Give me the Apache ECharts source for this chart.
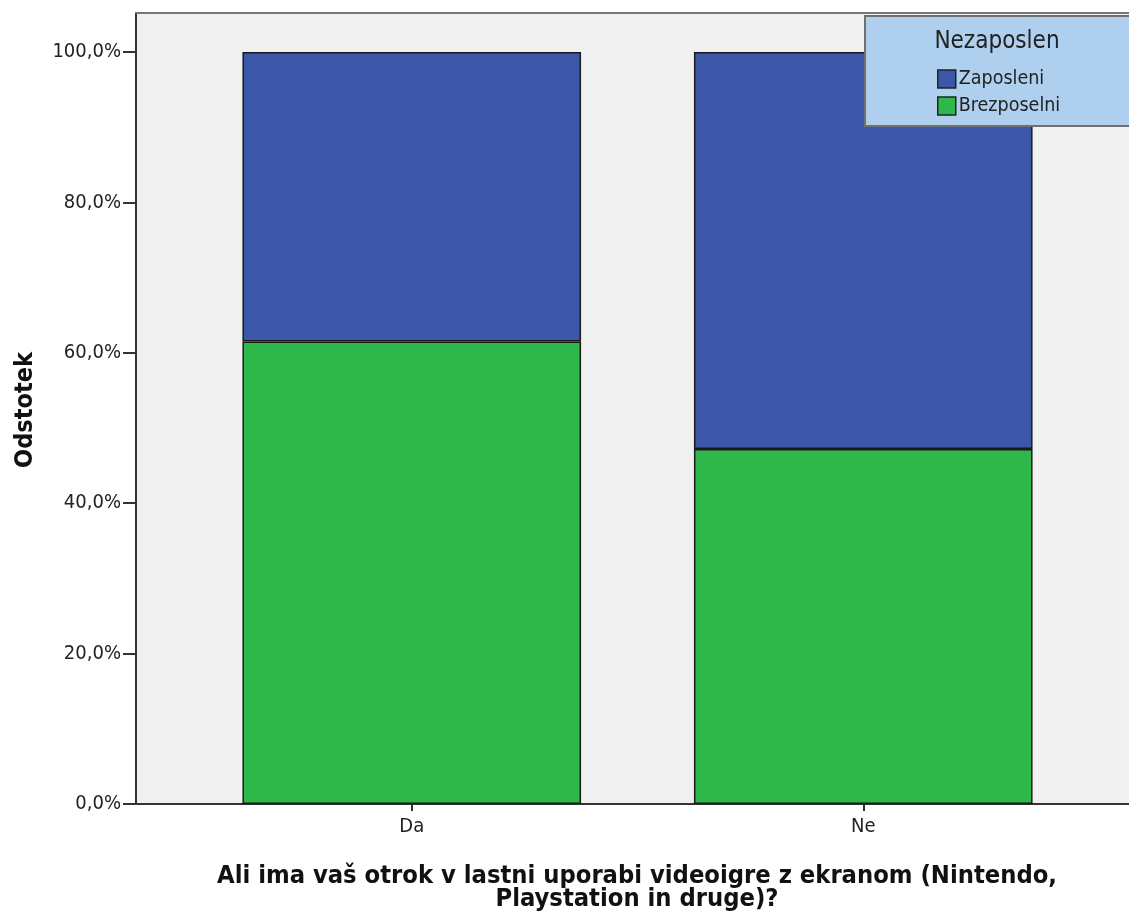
<!DOCTYPE html>
<html><head><meta charset="utf-8">
<script src="https://cdn.jsdelivr.net/npm/echarts@6/dist/echarts.min.js"></script>
<style>html,body{margin:0;padding:0;background:#fff}#c{width:1129px;height:914px}</style>
</head><body><div id="c"></div>
<script>
const categories = ['Da', 'Ne'];
const brezposelni = [61.5, 47.2];
const zaposleni = [38.5, 52.8];
const yTicks = [0, 20, 40, 60, 80, 100];
const legendTitle = 'Nezaposlen';
const yTitle = 'Odstotek';
const xTitle = 'Ali ima vaš otrok v lastni uporabi videoigre z ekranom (Nintendo,\nPlaystation in druge)?';

const FONT = '"DejaVu Sans Condensed", "DejaVu Sans", sans-serif';
const Y_MAX = 105.19;
const chart = echarts.init(document.getElementById('c'), null, {renderer: 'canvas'});
const fmt = v => v.toFixed(1).replace('.', ',') + '%';
chart.setOption({
  animation: false,
  textStyle: {fontFamily: FONT},
  grid: [
    {left: 136, top: 13, right: 0, bottom: 110, show: true, backgroundColor: '#f0f0f0', borderWidth: 0},
    {left: 186, top: 13, right: 40, bottom: 110}
  ],
  xAxis: [
    {gridIndex: 0, type: 'value', min: 0, max: 1, axisLine: {show: true, onZero: false, lineStyle: {color: '#333', width: 2}}, axisTick: {show: false}, axisLabel: {show: false}, splitLine: {show: false}},
    {gridIndex: 0, type: 'value', position: 'top', min: 0, max: 1, axisLine: {show: true, onZero: false, lineStyle: {color: '#777', width: 2}}, axisTick: {show: false}, axisLabel: {show: false}, splitLine: {show: false}},
    {gridIndex: 1, type: 'category', data: categories, axisLine: {show: false},
     axisTick: {show: true, alignWithLabel: true, length: 7, lineStyle: {color: '#333', width: 2}},
     axisLabel: {color: '#222', fontSize: 20, margin: 13, fontFamily: FONT}}
  ],
  yAxis: [
    {gridIndex: 0, type: 'value', min: 0, max: Y_MAX,
     axisLine: {show: true, lineStyle: {color: '#333', width: 2}},
     axisTick: {show: true, length: 13, customValues: yTicks, lineStyle: {color: '#333', width: 2}},
     axisLabel: {color: '#222', fontSize: 20, margin: 15, customValues: yTicks, formatter: v => fmt(v), fontFamily: FONT, padding: [8, 0, 0, 0]},
     splitLine: {show: false}},
    {gridIndex: 1, type: 'value', min: 0, max: Y_MAX, show: false, splitLine: {show: false}}
  ],
  legend: {
    orient: 'vertical', left: 932, top: 64, z: 10,
    data: ['Zaposleni', 'Brezposelni'],
    itemWidth: 18, itemHeight: 18, itemGap: 7,
    icon: 'rect',
    textStyle: {fontSize: 19.5, color: '#222', padding: [0, 0, 0, -2], fontFamily: FONT},
    itemStyle: {borderColor: '#222', borderWidth: 1.5},
    selectedMode: false
  },
  graphic: [
    {type: 'rect', z: 5, shape: {x: 865, y: 16, width: 280, height: 110}, style: {fill: '#aed0ee', stroke: '#707070', lineWidth: 2}},
    {type: 'text', z: 6, style: {text: legendTitle, x: 997, y: 42, align: 'center', verticalAlign: 'middle', font: '24px ' + FONT, fill: '#222'}},
    {type: 'text', z: 6, rotation: Math.PI / 2, x: 25, y: 410, style: {text: yTitle, align: 'center', verticalAlign: 'middle', font: 'bold 25px ' + FONT, fill: '#111'}},
    {type: 'text', z: 6, style: {text: xTitle, x: 637, y: 888, align: 'center', verticalAlign: 'middle', font: 'bold 25.3px ' + FONT, fill: '#111', lineHeight: 23}}
  ],
  series: [
    {name: 'Brezposelni', type: 'bar', stack: 's', xAxisIndex: 2, yAxisIndex: 1, data: brezposelni, barWidth: '75%',
     itemStyle: {color: '#2eb84b', borderColor: '#1a1a1a', borderWidth: 1.5}},
    {name: 'Zaposleni', type: 'bar', stack: 's', xAxisIndex: 2, yAxisIndex: 1, data: zaposleni, barWidth: '75%',
     itemStyle: {color: '#3c56a8', borderColor: '#1a1a1a', borderWidth: 1.5}}
  ]
});
</script></body></html>
